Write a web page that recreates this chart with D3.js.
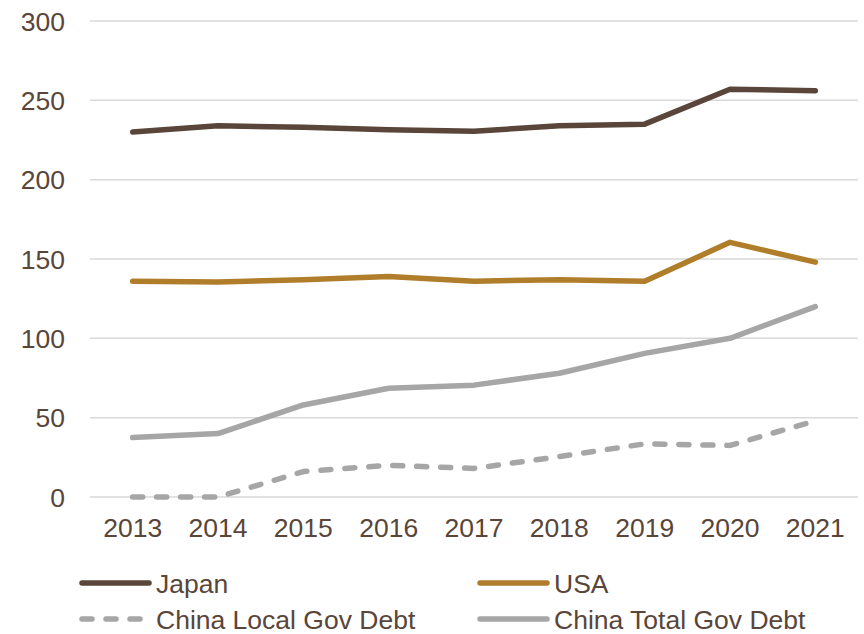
<!DOCTYPE html>
<html>
<head>
<meta charset="utf-8">
<script src="https://cdn.jsdelivr.net/npm/d3@7"></script>
<style>
  body { margin: 0; background: #fff; }
  text { font-family: "Liberation Sans", Arial, sans-serif; fill: #594539; }
</style>
</head>
<body>
<div id="chart"></div>
<script>
const years = ['2013','2014','2015','2016','2017','2018','2019','2020','2021'];
const japan = [230, 234, 233, 231.5, 230.5, 234, 235, 257, 256];
const usa = [136, 135.5, 137, 139, 136, 137, 136, 160.5, 148];
const chinaLocal = [0, 0, 16, 20, 18, 25.5, 33.5, 32.5, 48];
const chinaTotal = [37.5, 40, 58, 68.5, 70.5, 78, 90.5, 100, 120];
const yTicks = [0, 50, 100, 150, 200, 250, 300];

const series = [
  {name: 'Japan', values: japan, color: '#594539', dash: null},
  {name: 'USA', values: usa, color: '#b07d2b', dash: null},
  {name: 'China Local Gov Debt', values: chinaLocal, color: '#a6a6a6', dash: '10,14'},
  {name: 'China Total Gov Debt', values: chinaTotal, color: '#a6a6a6', dash: null}
];

const width = 864, height = 634;
const fontSize = '26.5px';
const svg = d3.select('#chart').append('svg')
  .attr('width', width).attr('height', height);

// scales
const x = d3.scaleBand().domain(years).range([90, 858]);
const y = d3.scaleLinear().domain([0, 300]).range([497, 21]);

// gridlines
svg.append('g').selectAll('line')
  .data(yTicks).enter().append('line')
  .attr('x1', 90).attr('x2', 858)
  .attr('y1', d => y(d)).attr('y2', d => y(d))
  .attr('stroke', '#d9d9d9').attr('stroke-width', 1.5);

// y labels
svg.append('g').selectAll('text')
  .data(yTicks).enter().append('text')
  .attr('x', 65).attr('y', d => y(d))
  .attr('dy', '0.36em')
  .attr('text-anchor', 'end')
  .style('font-size', fontSize)
  .text(d => d);

// x labels
svg.append('g').selectAll('text')
  .data(years).enter().append('text')
  .attr('x', d => x(d) + x.bandwidth() / 2)
  .attr('y', 537)
  .attr('text-anchor', 'middle')
  .style('font-size', fontSize)
  .text(d => d);

const line = d3.line()
  .x((d, i) => x(years[i]) + x.bandwidth() / 2)
  .y(d => y(d));

// draw grey ones first so dark lines sit on top
const order = [3, 2, 1, 0];
order.forEach(k => {
  const s = series[k];
  svg.append('path')
    .attr('d', line(s.values))
    .attr('fill', 'none')
    .attr('stroke', s.color)
    .attr('stroke-width', 5.5)
    .attr('stroke-linecap', 'round')
    .attr('stroke-linejoin', 'round')
    .attr('stroke-dasharray', s.dash);
});

// legend
const legendPos = [
  {x: 82, y: 583}, {x: 480, y: 583},
  {x: 82, y: 619}, {x: 480, y: 619}
];
series.forEach((s, i) => {
  const p = legendPos[i];
  const g = svg.append('g').attr('transform', 'translate(' + p.x + ',' + p.y + ')');
  g.append('line')
    .attr('x1', 0).attr('x2', s.dash ? 62 : 67)
    .attr('y1', 0).attr('y2', 0)
    .attr('stroke', s.color)
    .attr('stroke-width', 5.5)
    .attr('stroke-linecap', 'round')
    .attr('stroke-dasharray', s.dash);
  g.append('text')
    .attr('x', 74).attr('y', 0)
    .attr('dy', '0.36em')
    .style('font-size', fontSize)
    .text(s.name);
});
</script>
</body>
</html>
